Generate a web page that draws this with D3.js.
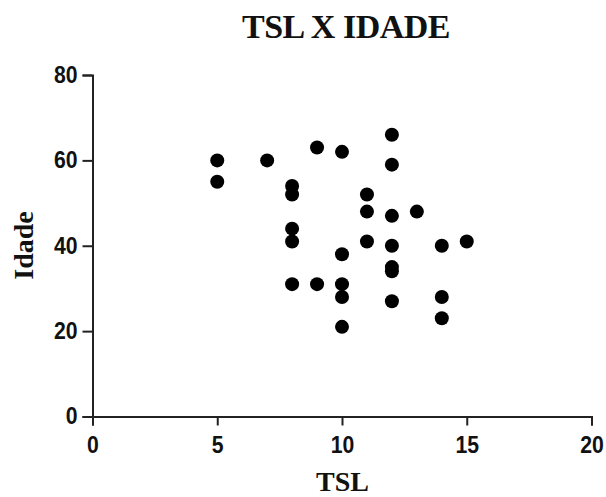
<!DOCTYPE html>
<html>
<head>
<meta charset="utf-8">
<script src="https://cdn.jsdelivr.net/npm/d3@7"></script>
<style>
  html, body { margin: 0; padding: 0; background: #fff; }
  svg { display: block; }
</style>
</head>
<body>
<svg id="chart" width="606" height="497"></svg>
<script>
// Data: TSL (x) and Idade (y)
const tsl   = [5, 5, 7, 8, 8, 8, 8, 8, 9, 9, 10, 10, 10, 10, 10, 11, 11, 11, 12, 12, 12, 12, 12, 12, 12, 13, 14, 14, 14, 15];
const idade = [60, 55, 60, 54, 52, 44, 41, 31, 63, 31, 62, 38, 31, 28, 21, 52, 48, 41, 66, 59, 47, 40, 35, 34, 27, 48, 40, 28, 23, 41];
const xTicks = [0, 5, 10, 15, 20];
const yTicks = [0, 20, 40, 60, 80];
const title = "TSL X IDADE";
const xLabel = "TSL";
const yLabel = "Idade";

const svg = d3.select("#chart");
const x = d3.scaleLinear().domain([0, 20]).range([92.5, 591.5]);
const y = d3.scaleLinear().domain([0, 80]).range([416.5, 75]);

const sans = "'Liberation Sans', Arial, sans-serif";
const serif = "'Liberation Serif', 'Times New Roman', serif";

// X axis
const gx = svg.append("g").attr("transform", `translate(0,${y(0)})`)
  .call(d3.axisBottom(x).tickValues(xTicks).tickSize(9).tickPadding(11).tickFormat(d3.format("d")));
// Y axis
const gy = svg.append("g").attr("transform", `translate(${x(0)},0)`)
  .call(d3.axisLeft(y).tickValues(yTicks).tickSize(10).tickPadding(5).tickFormat(d3.format("d")));

[gx, gy].forEach(g => {
  g.select(".domain").attr("stroke", "#222").attr("stroke-width", 2);
  g.selectAll(".tick line").attr("stroke", "#222").attr("stroke-width", 2);
  g.selectAll(".tick text").attr("fill", "#111").attr("font-family", sans)
    .attr("font-size", 23).attr("font-weight", "bold")
    .attr("textLength", d => String(d).length * 11.8)
    .attr("lengthAdjust", "spacingAndGlyphs");
});

// Points
svg.append("g").selectAll("circle")
  .data(tsl.map((t, i) => ({ t, a: idade[i] })))
  .join("circle")
  .attr("cx", d => x(d.t))
  .attr("cy", d => y(d.a))
  .attr("r", 7)
  .attr("fill", "#000");

// Title
svg.append("text").attr("x", 346).attr("y", 38).attr("text-anchor", "middle")
  .attr("font-family", serif).attr("font-weight", "bold").attr("font-size", 34)
  .attr("letter-spacing", -0.5).attr("fill", "#111").text(title);

// X label
svg.append("text").attr("x", 342.5).attr("y", 491).attr("text-anchor", "middle")
  .attr("font-family", serif).attr("font-weight", "bold").attr("font-size", 28)
  .attr("fill", "#111").text(xLabel);

// Y label
svg.append("text").attr("transform", "translate(33,245.5) rotate(-90)")
  .attr("text-anchor", "middle")
  .attr("font-family", serif).attr("font-weight", "bold").attr("font-size", 28)
  .attr("fill", "#111").text(yLabel);
</script>
</body>
</html>
